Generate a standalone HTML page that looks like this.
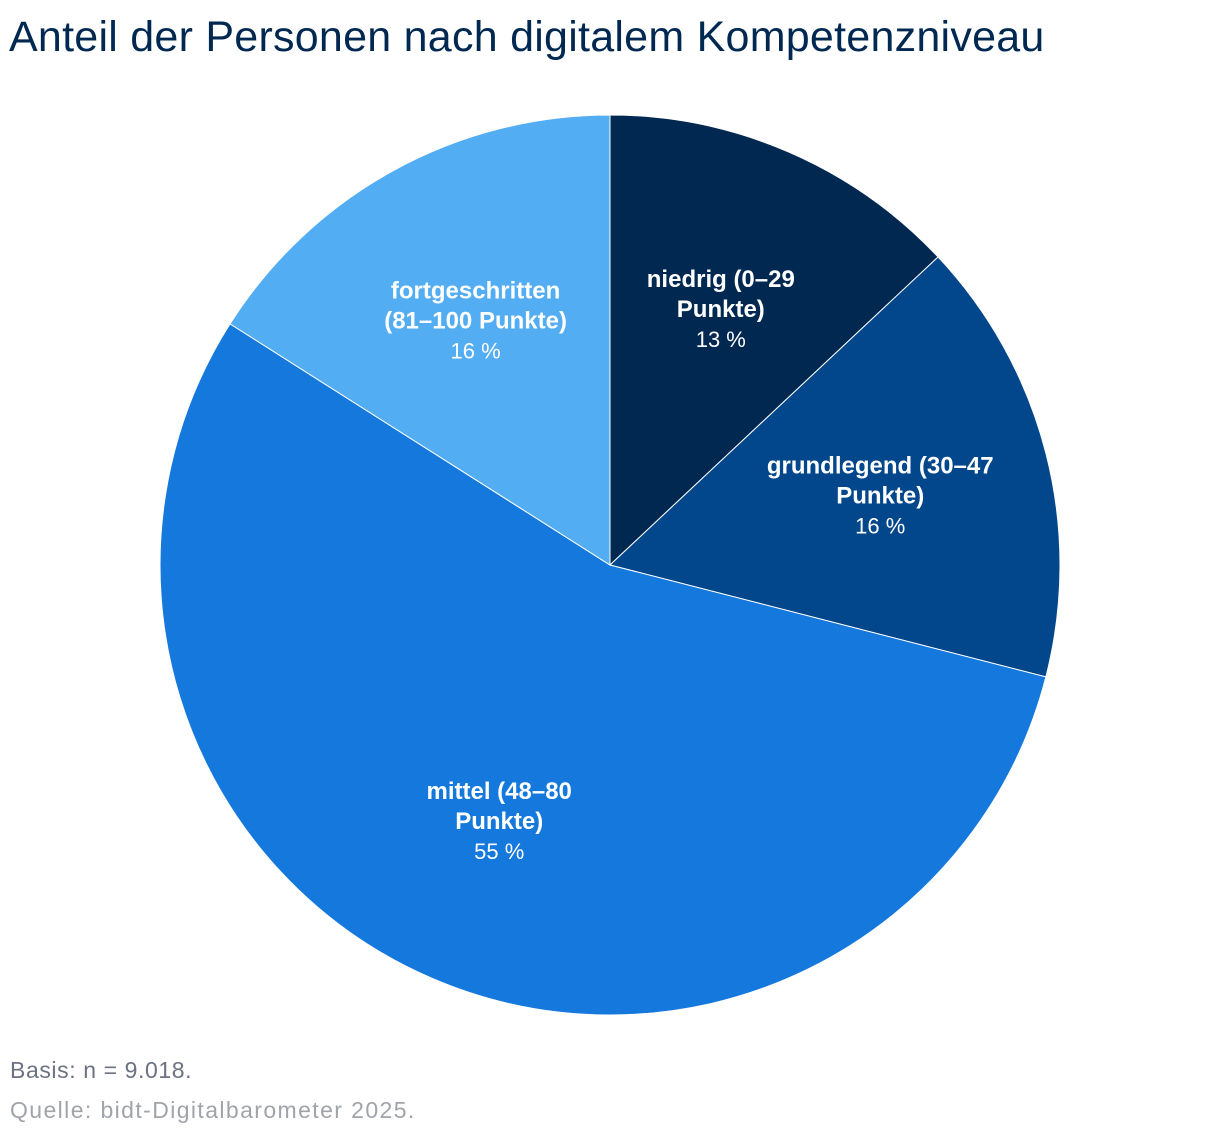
<!DOCTYPE html>
<html><head><meta charset="utf-8">
<style>
html,body{margin:0;padding:0;background:#fff;}
body{width:1220px;height:1136px;position:relative;font-family:"Liberation Sans",sans-serif;overflow:hidden;}
#title{position:absolute;left:9px;top:13px;font-size:43px;color:#002850;white-space:nowrap;letter-spacing:0.25px;}
.foot{position:absolute;left:10px;font-size:23px;white-space:nowrap;}
svg{position:absolute;left:0;top:0;}
</style></head><body>
<div id="title">Anteil der Personen nach digitalem Kompetenzniveau</div>
<svg id="chart" width="1220" height="1136"></svg>
<div class="foot" style="top:1057px;color:#6b7280;letter-spacing:0.6px;">Basis: n = 9.018.</div>
<div class="foot" style="top:1097px;color:#a0a4aa;letter-spacing:1.4px;">Quelle: bidt-Digitalbarometer 2025.</div>
<script>
const categories = ["niedrig (0–29|Punkte)", "grundlegend (30–47|Punkte)", "mittel (48–80|Punkte)", "fortgeschritten|(81–100 Punkte)"];
const values = [13, 16, 55, 16];
const valueLabels = ["13 %", "16 %", "55 %", "16 %"];
const colors = ["#002850", "#02478c", "#1578dc", "#53adf3"];

const svg = document.getElementById('chart');
const NS = "http://www.w3.org/2000/svg";
const cx = 610, cy = 565, R = 450;
const total = values.reduce((a,b)=>a+b,0);
function pt(frac, r){ const a = frac*2*Math.PI; return [cx + r*Math.sin(a), cy - r*Math.cos(a)]; }
let acc = 0;
values.forEach((v,i)=>{
  const s = acc/total, e = (acc+v)/total; acc += v;
  const [x1,y1] = pt(s,R), [x2,y2] = pt(e,R);
  const large = (e-s) > 0.5 ? 1 : 0;
  const p = document.createElementNS(NS,'path');
  p.setAttribute('d',`M${cx},${cy} L${x1},${y1} A${R},${R} 0 ${large} 1 ${x2},${y2} Z`);
  p.setAttribute('fill',colors[i]);
  p.setAttribute('stroke','#fff');
  p.setAttribute('stroke-width','1');
  
  
  svg.appendChild(p);
});
acc = 0;
values.forEach((v,i)=>{
  const m = (acc + v/2)/total; acc += v;
  const [lx,ly] = pt(m, R*0.62);
  const g = document.createElementNS(NS,'g');
  
  
  const lines = categories[i].split('|');
  const all = lines.concat([valueLabels[i]]);
  const lh = 30, y0 = ly - (all.length-1)*lh/2;
  all.forEach((t,j)=>{
    const tx = document.createElementNS(NS,'text');
    tx.setAttribute('x',lx); tx.setAttribute('y',y0+j*lh+8);
    tx.setAttribute('text-anchor','middle');
    tx.setAttribute('fill','#fff');
    tx.setAttribute('font-family','"Liberation Sans",sans-serif');
    if (j < lines.length) { tx.setAttribute('font-weight','bold'); tx.setAttribute('font-size','24'); }
    else tx.setAttribute('font-size','22');
    tx.textContent = t;
    g.appendChild(tx);
  });
  svg.appendChild(g);
});
</script>
</body></html>
